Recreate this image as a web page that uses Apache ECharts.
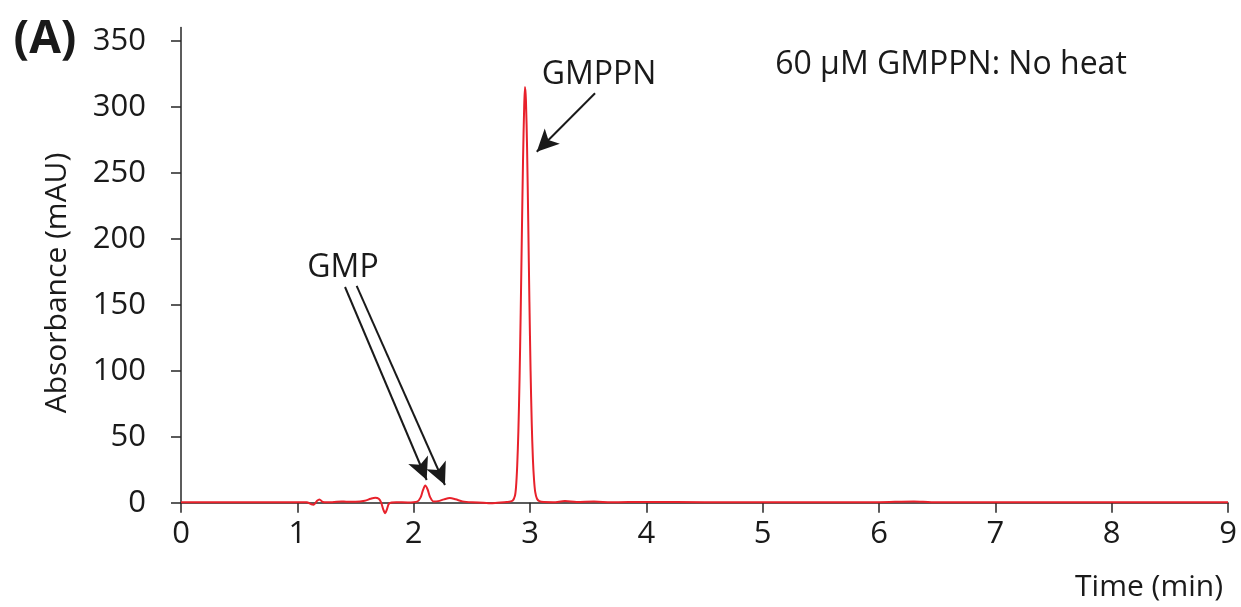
<!DOCTYPE html>
<html>
<head>
<meta charset="utf-8">
<script src="https://cdn.jsdelivr.net/npm/echarts@6/dist/echarts.min.js"></script>
<style>
html,body{margin:0;padding:0;background:#fff;}
#chart{width:1241px;height:607px;}
</style>
</head>
<body>
<div id="chart"></div>
<script>
// Retention time (min)
var times = [0, 0.5, 1.0, 1.08, 1.12, 1.14, 1.17, 1.19, 1.22, 1.3, 1.38, 1.42, 1.5, 1.58, 1.63, 1.67, 1.70, 1.72, 1.74, 1.755, 1.77, 1.79, 1.85, 1.95, 2.03, 2.06, 2.08, 2.10, 2.12, 2.14, 2.17, 2.21, 2.26, 2.31, 2.36, 2.42, 2.5, 2.6, 2.66, 2.72, 2.8, 2.85, 2.87, 2.88, 2.89, 2.90, 2.91, 2.92, 2.93, 2.94, 2.95, 2.957, 2.965, 2.975, 2.985, 2.995, 3.005, 3.015, 3.025, 3.035, 3.045, 3.06, 3.08, 3.12, 3.2, 3.3, 3.4, 3.55, 3.7, 4.0, 4.5, 5.0, 5.5, 6.0, 6.3, 6.45, 7.0, 7.5, 8.0, 8.5, 9.0];
// Absorbance (mAU)
var absorbance = [0.3, 0.3, 0.3, 0.3, -1.2, -1.5, 1.5, 2.5, 0.6, 0.3, 1.0, 0.8, 0.8, 1.5, 3.0, 3.8, 3.0, 0.2, -5.5, -8.0, -5.0, -0.5, 0.3, 0.2, 0.8, 4.0, 9.5, 13.0, 10.0, 4.5, 1.0, 1.2, 2.5, 3.5, 2.6, 1.0, 0.3, 0.0, -0.4, 0.0, 0.5, 1.5, 5, 12, 28, 54, 93, 144, 203, 259, 300, 315, 305, 268, 212, 152, 100, 60, 33, 17, 8, 3, 1.2, 0.5, 0.4, 1.2, 0.5, 0.9, 0.3, 0.6, 0.3, 0.3, 0.3, 0.4, 0.9, 0.4, 0.3, 0.3, 0.3, 0.3, 0.3];

var yTicks = [0, 50, 100, 150, 200, 250, 300, 350];
var xTicks = [0, 1, 2, 3, 4, 5, 6, 7, 8, 9];

// Annotation arrows: [startTime, startValue, tipTime, tipValue]
var arrowGMPPN = [3.559, 310.2, 3.058, 265.9];
var arrowGMP1 = [1.410, 163.4, 2.112, 17.2];
var arrowGMP2 = [1.510, 164.2, 2.269, 13.4];

var seriesData = times.map(function (t, i) { return [t, absorbance[i]]; });
function arrowPair(a) { return [{ coord: [a[0], a[1]] }, { coord: [a[2], a[3]] }]; }

var FONT = '"Open Sans", "DejaVu Sans", sans-serif';
var AXIS_COLOR = '#262626';

var chart = echarts.init(document.getElementById('chart'), null, { renderer: 'canvas' });
chart.setOption({
  animation: false,
  backgroundColor: '#ffffff',
  grid: { left: 181, right: 13, top: 27.5, bottom: 104.3, containLabel: false },
  xAxis: {
    type: 'value',
    min: 0, max: 9, interval: 1,
    axisLine: { show: true, lineStyle: { color: AXIS_COLOR, width: 1.5 } },
    axisTick: { show: true, length: 10, lineStyle: { color: AXIS_COLOR, width: 1.5 } },
    axisLabel: { color: '#1a1a1a', fontSize: 31, fontFamily: FONT, margin: 16 },
    splitLine: { show: false }
  },
  yAxis: {
    type: 'value',
    min: 0, max: 360, interval: 50,
    axisLine: { show: true, lineStyle: { color: AXIS_COLOR, width: 1.5 } },
    axisTick: { show: true, length: 10, customValues: yTicks, lineStyle: { color: AXIS_COLOR, width: 1.5 } },
    axisLabel: { color: '#1a1a1a', fontSize: 31, fontFamily: FONT, margin: 35, customValues: yTicks },
    splitLine: { show: false }
  },
  series: [{
    type: 'line',
    data: seriesData,
    smooth: 0.3,
    clip: false,
    symbol: 'none',
    lineStyle: { color: '#e8212b', width: 2 },
    markLine: {
      silent: true,
      symbol: ['none', 'arrow'],
      symbolSize: [16, 22],
      label: { show: false },
      lineStyle: { color: '#1a1a1a', width: 2, type: 'solid' },
      emphasis: { disabled: true },
      data: [arrowPair(arrowGMPPN), arrowPair(arrowGMP1), arrowPair(arrowGMP2)]
    }
  }],
  graphic: [
    { type: 'text', x: 45, y: 40, style: { text: '(A)', font: 'bold 46px ' + FONT, fill: '#1a1a1a', textAlign: 'center', textVerticalAlign: 'middle' } },
    { type: 'text', x: 57, y: 283, rotation: Math.PI / 2, style: { text: 'Absorbance (mAU)', font: '30px ' + FONT, fill: '#1a1a1a', textAlign: 'center', textVerticalAlign: 'middle' } },
    { type: 'text', x: 1223, y: 587, style: { text: 'Time (min)', font: '30px ' + FONT, fill: '#1a1a1a', textAlign: 'right', textVerticalAlign: 'middle' } },
    { type: 'text', x: 343, y: 268, style: { text: 'GMP', font: '32px ' + FONT, fill: '#1a1a1a', textAlign: 'center', textVerticalAlign: 'middle' } },
    { type: 'text', x: 599, y: 75, style: { text: 'GMPPN', font: '32px ' + FONT, fill: '#1a1a1a', textAlign: 'center', textVerticalAlign: 'middle' } },
    { type: 'text', x: 951, y: 65, style: { text: '60 μM GMPPN: No heat', font: '32px ' + FONT, fill: '#1a1a1a', textAlign: 'center', textVerticalAlign: 'middle' } }
  ]
});
</script>
</body>
</html>
